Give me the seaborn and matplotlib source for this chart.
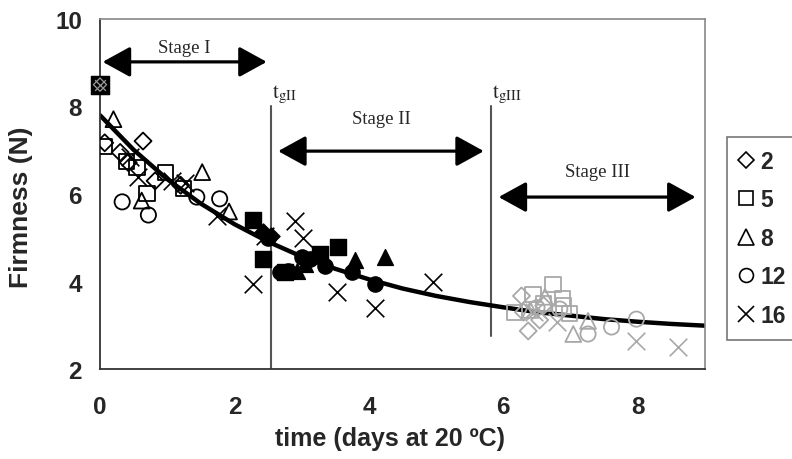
import numpy as np
import pandas as pd
import matplotlib
matplotlib.use("Agg")
import matplotlib.pyplot as plt
from matplotlib.patches import ArrowStyle
from matplotlib.lines import Line2D
import seaborn as sns

# Storage temperatures (legend labels) and their markers
temps = [2, 5, 8, 12, 16]
markers = {2: "D", 5: "s", 8: "^", 12: "o", 16: "x"}

# Stage I measurements (open black markers)
s1_time = [0.07, 0.64, 0.30, 0.42, 0.82, 1.20,
           0.07, 0.40, 0.97, 0.70, 1.24, 0.55,
           0.20, 1.52, 0.62, 1.92,
           0.33, 0.72, 1.44, 1.78,
           0.57, 1.07, 1.26, 1.74, 0.45]
s1_firm = [7.17, 7.21, 6.95, 6.72, 6.30, 6.20,
           7.08, 6.75, 6.50, 6.02, 6.12, 6.60,
           7.71, 6.50, 5.85, 5.60,
           5.82, 5.52, 5.93, 5.89,
           6.39, 6.30, 6.25, 5.50, 6.85]
s1_temp = [2] * 6 + [5] * 6 + [8] * 4 + [12] * 4 + [16] * 5

# Stage II measurements (filled black markers)
s2_time = [2.55, 2.42,
           2.28, 2.42, 3.27, 3.54, 2.75,
           2.93, 3.79, 4.24, 3.05,
           2.68, 2.80, 3.00, 3.12, 3.35, 3.75, 4.09, 2.50,
           2.90, 3.02, 2.28, 3.52, 4.09, 4.95, 2.45]
s2_firm = [5.04, 5.13,
           5.40, 4.51, 4.63, 4.79, 4.22,
           4.24, 4.50, 4.56, 4.40,
           4.22, 4.24, 4.56, 4.51, 4.35, 4.22, 3.94, 5.00,
           5.38, 5.00, 3.94, 3.76, 3.40, 3.99, 5.05]
s2_temp = [2] * 2 + [5] * 5 + [8] * 4 + [12] * 8 + [16] * 7

# Stage III measurements (open grey markers)
s3_time = [6.27, 6.37, 6.54, 6.30, 6.60,
           6.17, 6.44, 6.74, 6.88, 6.89, 6.99, 6.60,
           6.62, 7.04, 7.26, 6.40,
           6.84, 7.26, 7.61, 7.98, 6.50,
           6.80, 7.98, 8.60, 6.45]
s3_firm = [3.67, 2.87, 3.12, 3.30, 3.45,
           3.30, 3.71, 3.94, 3.62, 3.44, 3.26, 3.50,
           3.65, 2.80, 3.10, 3.35,
           3.37, 2.80, 2.96, 3.14, 3.40,
           3.07, 2.64, 2.50, 3.30]
s3_temp = [2] * 5 + [5] * 7 + [8] * 4 + [12] * 5 + [16] * 4

# Initial firmness (all temperatures)
init_time = [0.0]
init_firm = [8.5]

# Fitted firmness decay curve
fit_time = [0.0, 0.5, 1.0, 1.5, 2.0, 2.5, 3.0, 3.5, 4.0, 4.5,
            5.0, 5.5, 6.0, 6.5, 7.0, 7.5, 8.0, 8.5, 9.0]
fit_firm = [7.80, 7.01, 6.34, 5.78, 5.31, 4.91, 4.57, 4.29, 4.05, 3.84,
            3.67, 3.53, 3.41, 3.30, 3.22, 3.14, 3.08, 3.03, 2.99]

# Transition times between stages
t_gII = 2.54
t_gIII = 5.81

sns.set_theme(style="white")
plt.rcParams["font.family"] = ["Liberation Sans", "DejaVu Sans"]
plt.rcParams["mathtext.fontset"] = "stix"

fig = plt.figure(figsize=(7.92, 4.60), dpi=100)
ax = fig.add_axes([100 / 792, 1 - 370 / 460, 605 / 792, 350 / 460])

stages = [
    (pd.DataFrame({"time": s1_time, "firm": s1_firm, "temp": s1_temp}), "black", False),
    (pd.DataFrame({"time": s2_time, "firm": s2_firm, "temp": s2_temp}), "black", True),
    (pd.DataFrame({"time": s3_time, "firm": s3_firm, "temp": s3_temp}), "#a8a8a8", False),
]

sizes = {2: 75, 5: 120, 8: 130, 12: 120, 16: 160}

for df, col, filled in stages:
    for t in temps:
        sub = df[df["temp"] == t]
        m = markers[t]
        if m == "x":
            sns.scatterplot(data=sub, x="time", y="firm", marker="x", s=sizes[t],
                            color=col, linewidth=1.2, ax=ax, zorder=3)
        elif filled:
            sns.scatterplot(data=sub, x="time", y="firm", marker=m, s=sizes[t],
                            color=col, edgecolor=col, linewidth=1.0, ax=ax, zorder=3)
        else:
            sns.scatterplot(data=sub, x="time", y="firm", marker=m, s=sizes[t],
                            facecolors="none", edgecolors=col, linewidth=1.3,
                            ax=ax, zorder=3)

# Initial point: overlapping markers of all temperatures
init_df = pd.DataFrame({"time": init_time, "firm": init_firm})
sns.scatterplot(data=init_df, x="time", y="firm", marker="s", s=170,
                color="black", edgecolor="black", ax=ax, zorder=4, clip_on=False)
sns.scatterplot(data=init_df, x="time", y="firm", marker="D", s=45,
                facecolors="none", edgecolors="#9a9a9a", linewidth=0.9,
                ax=ax, zorder=5, clip_on=False)
sns.scatterplot(data=init_df, x="time", y="firm", marker="x", s=60,
                color="#9a9a9a", linewidth=0.9, ax=ax, zorder=5, clip_on=False)

# Fitted curve
sns.lineplot(x=fit_time, y=fit_firm, color="black", linewidth=3.2, ax=ax, zorder=2)

# Stage boundaries
ax.plot([t_gII, t_gII], [8.02, 2.0], color="#555555", lw=1.5, zorder=1)
ax.plot([t_gIII, t_gIII], [8.02, 2.75], color="#555555", lw=1.5, zorder=1)
ax.text(t_gII + 0.02, 8.04, r"$\mathrm{t}_{\mathrm{gII}}$", fontsize=15, ha="left", va="bottom")
ax.text(t_gIII + 0.02, 8.04, r"$\mathrm{t}_{\mathrm{gIII}}$", fontsize=15, ha="left", va="bottom")

# Stage arrows and labels
astyle = ArrowStyle("<|-|>", head_length=1.0, head_width=0.55)
for x0, x1, y, label, ly in [(0.04, 2.48, 9.02, "Stage I", 9.16),
                             (2.65, 5.71, 6.98, "Stage II", 7.52),
                             (5.93, 8.86, 5.93, "Stage III", 6.33)]:
    ax.annotate("", xy=(x1, y), xytext=(x0, y),
                arrowprops=dict(arrowstyle=astyle, mutation_scale=17, lw=2.3,
                                color="black", shrinkA=0, shrinkB=0))
    ax.text((x0 + x1) / 2, ly, label, fontsize=13.5, ha="center", va="bottom",
            family=["Liberation Serif", "DejaVu Serif"])

ax.set_xlim(0, 9)
ax.set_ylim(2, 10)
ax.set_xticks([0, 2, 4, 6, 8])
ax.set_yticks([2, 4, 6, 8, 10])
ax.tick_params(axis="both", direction="out", length=5, width=1.2, color="#333333",
               labelsize=17.5)
ax.tick_params(axis="y", pad=8)
ax.tick_params(axis="x", pad=14)
for lab in ax.get_xticklabels() + ax.get_yticklabels():
    lab.set_fontweight("bold")
ax.set_xlabel("time (days at 20 ºC)", fontsize=18, fontweight="bold",
              family=["Liberation Sans Narrow", "Liberation Sans"])
ax.set_ylabel("Firmness (N)", fontsize=19, fontweight="bold")
ax.xaxis.set_label_coords(0.479, -0.163)
ax.yaxis.set_label_coords(-0.11, 0.466)

for side in ["left", "bottom"]:
    ax.spines[side].set_color("#333333")
    ax.spines[side].set_linewidth(1.3)
for side in ["top", "right"]:
    ax.spines[side].set_color("#888888")
    ax.spines[side].set_linewidth(1.2)

# Legend with open markers
handles = []
for t in temps:
    m = markers[t]
    ms = {2: 8, 5: 10, 8: 11, 12: 10, 16: 11}[t]
    handles.append(Line2D([], [], linestyle="none", marker=m, markersize=ms,
                          markerfacecolor="none", markeredgecolor="black",
                          markeredgewidth=1.2, color="black"))
leg = fig.legend(handles, [str(t) for t in temps], loc="upper left",
                 bbox_to_anchor=(727 / 792, 1 - 138 / 460), frameon=True,
                 fancybox=False, edgecolor="#555555", handlelength=0.6,
                 handletextpad=0.3, labelspacing=0.68, borderpad=0.55,
                 borderaxespad=0, prop=dict(size=16.5, weight="bold"))
leg.get_frame().set_linewidth(1.2)

fig.savefig("out.png", dpi=100)
